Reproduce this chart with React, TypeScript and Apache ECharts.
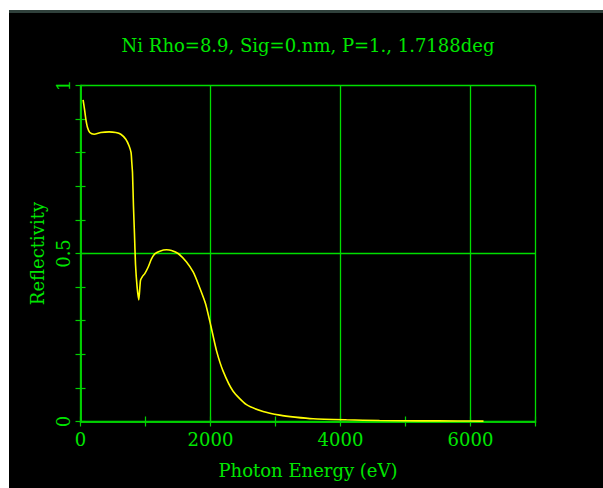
import React, { useEffect, useRef } from 'react';
import * as echarts from 'echarts';

// Photon energy (eV) and reflectivity
const energies = [
  40, 62, 82, 108, 143, 210, 312, 440, 543, 620, 697, 748, 778, 789, 800, 815, 830, 846,
  871, 897, 923, 954, 989, 1040, 1092, 1143, 1220, 1323, 1400, 1502, 1631, 1733, 1810,
  1925, 2005, 2092, 2194, 2348, 2554, 2809, 3066, 3300, 3578, 4092, 4600, 5200, 5800, 6200,
];
const reflectivity = [
  0.957, 0.929, 0.9, 0.875, 0.86, 0.855, 0.86, 0.862, 0.86, 0.855, 0.84, 0.82, 0.8, 0.771,
  0.741, 0.64, 0.56, 0.469, 0.4, 0.362, 0.42, 0.432, 0.44, 0.459, 0.484, 0.499, 0.507,
  0.511, 0.509, 0.5, 0.475, 0.445, 0.41, 0.35, 0.285, 0.211, 0.15, 0.09, 0.05, 0.03, 0.019,
  0.013, 0.008, 0.005, 0.003, 0.002, 0.0015, 0.001,
];

const xTickLabels = [0, 2000, 4000, 6000];
const yTickLabels = [0, 0.5, 1];
const xGridStep = 2000;
const yGridStep = 0.5;
const titleText = 'Ni Rho=8.9, Sig=0.nm, P=1., 1.7188deg';
const xName = 'Photon Energy (eV)';
const yName = 'Reflectivity';

const TEXT = '#00e600';
const LINE = '#00d000';
const FONT = 'DejaVu Serif';

const isIn = (v: number, arr: number[]) => arr.some((a) => Math.abs(a - v) < 1e-6);

export default function App() {
  const ref = useRef<HTMLDivElement>(null);
  useEffect(() => {
    const chart = echarts.init(ref.current!, null, { renderer: 'svg' });
    const axisLine = { show: true, lineStyle: { color: LINE, width: 1.6 } };
    const axisTick = { show: true, inside: true, length: 5, lineStyle: { color: LINE, width: 1.2 } };
    const labelStyle = { color: TEXT, fontFamily: FONT, fontSize: 18 };
    const hiddenParts = {
      axisLine: { show: false },
      axisTick: { show: false },
      axisLabel: { show: false },
    };
    const gridLine = { show: true, lineStyle: { color: '#00dd00', width: 1.3, type: 'solid', opacity: 1 } };
    chart.setOption({
      animation: false,
      backgroundColor: '#000000',
      graphic: [
        { type: 'rect', left: 0, top: 0, shape: { width: 9, height: 488 }, style: { fill: '#ffffff' }, z: 100 },
        { type: 'rect', left: 0, top: 0, shape: { width: 603, height: 10 }, style: { fill: '#ffffff' }, z: 100 },
        { type: 'rect', left: 9, top: 10, shape: { width: 594, height: 3 }, style: { fill: '#2f403b' }, z: 100 },
        {
          type: 'text',
          x: 308,
          y: 45,
          style: {
            text: titleText,
            fill: TEXT,
            font: `18px "${FONT}"`,
            textAlign: 'center',
            textVerticalAlign: 'middle',
          },
        },
      ],
      grid: { left: 80.5, right: 67.5, top: 85.5, bottom: 66.5 },
      xAxis: [
        {
          type: 'value',
          min: 0,
          max: 7000,
          interval: 1000,
          position: 'bottom',
          axisLine,
          axisTick,
          splitLine: { show: false },
          axisLabel: {
            ...labelStyle,
            margin: 9,
            formatter: (v: number) => (isIn(v, xTickLabels) ? String(v) : ''),
          },
          name: xName,
          nameLocation: 'middle',
          nameGap: 40,
          nameTextStyle: labelStyle,
        },
        {
          type: 'value',
          min: 0,
          max: 7000,
          interval: 1000,
          position: 'top',
          axisLine,
          axisTick,
          splitLine: { show: false },
          axisLabel: { show: false },
        },
        {
          type: 'value',
          min: 0,
          max: 7000,
          interval: xGridStep,
          position: 'bottom',
          ...hiddenParts,
          splitLine: gridLine,
        },
      ],
      yAxis: [
        {
          type: 'value',
          min: 0,
          max: 1,
          interval: 0.1,
          position: 'left',
          axisLine,
          axisTick,
          splitLine: { show: false },
          axisLabel: {
            ...labelStyle,
            rotate: 90,
            margin: 8,
            formatter: (v: number) => (isIn(v, yTickLabels) ? String(Math.round(v * 10) / 10) : ''),
          },
          name: yName,
          nameLocation: 'middle',
          nameGap: 34,
          nameTextStyle: labelStyle,
        },
        {
          type: 'value',
          min: 0,
          max: 1,
          interval: 0.1,
          position: 'right',
          axisLine,
          axisTick,
          splitLine: { show: false },
          axisLabel: { show: false },
        },
        {
          type: 'value',
          min: 0,
          max: 1,
          interval: yGridStep,
          position: 'left',
          ...hiddenParts,
          splitLine: gridLine,
        },
      ],
      series: [
        {
          type: 'line',
          xAxisIndex: 0,
          yAxisIndex: 0,
          data: energies.map((e, i) => [e, reflectivity[i]]),
          showSymbol: false,
          smooth: 0.2,
          lineStyle: { color: '#ffff00', width: 1.6 },
        },
      ],
    });
    return () => chart.dispose();
  }, []);
  return (
    <div
      ref={ref}
      style={{ position: 'fixed', left: 0, top: 0, width: 603, height: 488 }}
    />
  );
}
